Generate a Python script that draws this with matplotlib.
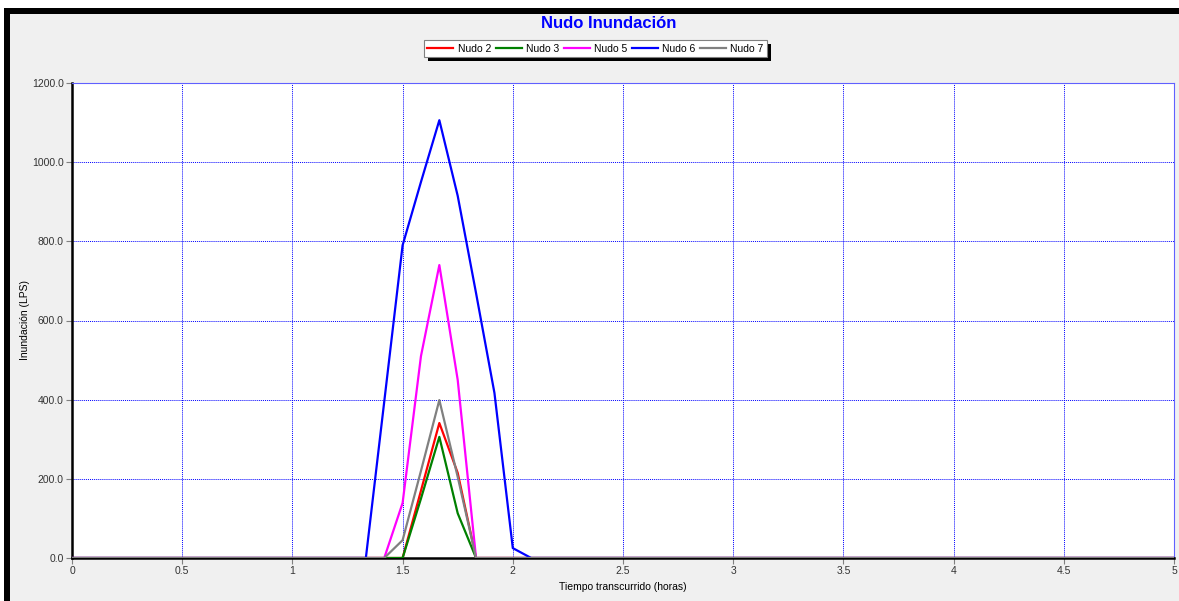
import matplotlib
matplotlib.use("Agg")
import matplotlib.pyplot as plt
from matplotlib.patches import Rectangle
from matplotlib.ticker import FuncFormatter

plt.rcParams['font.family'] = ['Liberation Sans', 'DejaVu Sans']

# Time steps (hours)
t = [0.0, 1.3333, 1.4167, 1.5, 1.5833, 1.6667, 1.75, 1.8333, 1.9167, 2.0, 2.0833, 5.0]
nudo2 = [0, 0, 0, 0, 170, 341, 215, 0, 0, 0, 0, 0]
nudo3 = [0, 0, 0, 0, 150, 306, 113, 0, 0, 0, 0, 0]
nudo5 = [0, 0, 0, 139, 510, 740, 450, 0, 0, 0, 0, 0]
nudo6 = [0, 0, 395, 790, 950, 1106, 915, 669, 417, 25, 0, 0]
nudo7 = [0, 0, 0, 45, 220, 399, 205, 0, 0, 0, 0, 0]

series = [("Nudo 2", nudo2, "#ff0000"),
          ("Nudo 3", nudo3, "#008000"),
          ("Nudo 5", nudo5, "#ff00ff"),
          ("Nudo 6", nudo6, "#0000ff"),
          ("Nudo 7", nudo7, "#808080")]

xticks = [0, 0.5, 1, 1.5, 2, 2.5, 3, 3.5, 4, 4.5, 5]
xticklabels = ["0", "0.5", "1", "1.5", "2", "2.5", "3", "3.5", "4", "4.5", "5"]
yticks = [0, 200, 400, 600, 800, 1000, 1200]

W, H = 1179, 601
fig = plt.figure(figsize=(W/100, H/100), dpi=100)
fig.patch.set_facecolor("#f0f0f0")

# outer frame
fig.patches.append(Rectangle((0, (H-8)/H), 1, 8/H, transform=fig.transFigure,
                             facecolor="white", edgecolor="none", zorder=0))
fig.patches.append(Rectangle((0, (H-14)/H), 1, 6/H, transform=fig.transFigure,
                             facecolor="black", edgecolor="none", zorder=0))
fig.patches.append(Rectangle((4/W, 0), 6/W, (H-8)/H, transform=fig.transFigure,
                             facecolor="black", edgecolor="none", zorder=0))
fig.patches.append(Rectangle((0, 0), 4/W, (H-8)/H, transform=fig.transFigure,
                             facecolor="white", edgecolor="none", zorder=0))

ax = fig.add_axes([72/W, (H-558)/H, (1174-72)/W, 475/H])
ax.set_facecolor("white")

for name, vals, col in series:
    ax.plot(t, vals, color=col, lw=1.6, label=name, zorder=3)

ax.set_xlim(0, 5)
ax.set_ylim(0, 1200)
ax.set_xticks(xticks)
ax.set_xticklabels(xticklabels)
ax.set_yticks(yticks)
ax.yaxis.set_major_formatter(FuncFormatter(lambda v, p: f"{v:.1f}"))
ax.tick_params(labelsize=7.5, length=4, color="#808080", labelcolor="#333333", pad=2)
ax.grid(True, color="#0000ff", linestyle=(0, (1, 1)), lw=0.7)

for s in ("top", "right"):
    ax.spines[s].set_color("#6060ff")
    ax.spines[s].set_linewidth(0.8)
for s in ("left", "bottom"):
    ax.spines[s].set_color("black")
    ax.spines[s].set_linewidth(1.8)

ax.set_xlabel("Tiempo transcurrido (horas)", fontsize=7.5, labelpad=4)
ax.set_ylabel("Inundación (LPS)", fontsize=7.5, labelpad=1)

fig.text(609/W, 1 - 23/H, "Nudo Inundación", ha="center", va="center",
         color="#0000ff", fontsize=12, fontweight="bold")

leg = fig.legend(loc="center", bbox_to_anchor=(595.5/W, 1 - 48.5/H), ncol=5,
                 fontsize=7.5, frameon=True, fancybox=False, handlelength=2.5,
                 handletextpad=0.4, columnspacing=0.45, borderpad=0.35)
leg.get_frame().set_edgecolor("#808080")
leg.get_frame().set_linewidth(0.8)
leg.get_frame().set_alpha(1)
leg.set_zorder(2)

# drop shadow behind the legend
fig.canvas.draw()
bb = leg.get_window_extent()
off = 4
fig.patches.append(Rectangle(((bb.x0 + off)/W, (bb.y0 - off)/H), bb.width/W, bb.height/H,
                             transform=fig.transFigure, facecolor="black",
                             edgecolor="none", zorder=1))

fig.savefig("out.png", dpi=100, facecolor=fig.get_facecolor())
